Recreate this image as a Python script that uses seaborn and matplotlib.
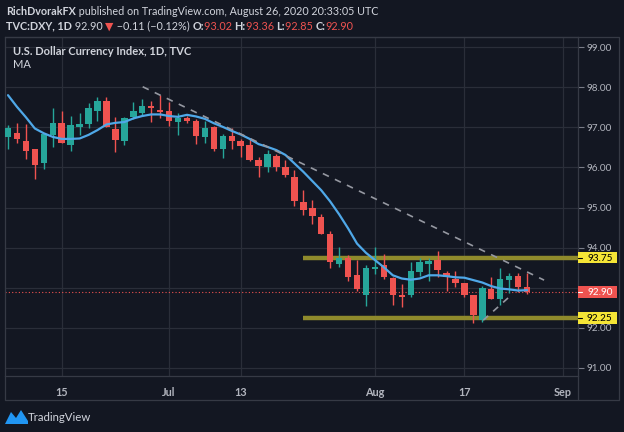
import numpy as np
import seaborn as sns
import matplotlib
matplotlib.use("Agg")
import matplotlib.pyplot as plt
import matplotlib.transforms as mtransforms
from matplotlib.patches import Rectangle, Polygon
from matplotlib.lines import Line2D

# DXY daily candles, Jun 5 -> Aug 26 2020 (trading days, index 0..58)
opens = [96.75, 96.86, 96.65, 96.45, 96.10, 96.81, 97.11, 96.56, 97.01, 97.08,
         97.41, 97.66, 96.95, 96.66, 97.25, 97.36, 97.53, 97.41, 97.40, 97.14,
         97.24, 97.16, 96.76, 97.01, 96.46, 96.78, 96.66, 96.56, 96.18, 96.00,
         96.28, 96.02, 95.75, 95.14, 94.98, 94.77, 94.35, 93.59, 93.75, 93.33,
         92.82, 93.47, 93.56, 93.25, 92.80, 92.82, 93.40, 93.59, 93.69, 93.37,
         93.23, 93.11, 92.82, 92.19, 92.96, 92.73, 93.19, 93.29, 93.02]
highs = [97.05, 97.10, 97.07, 96.47, 96.83, 97.47, 97.40, 97.28, 97.35, 97.60,
         97.75, 97.76, 97.25, 97.26, 97.62, 97.70, 97.65, 97.80, 97.64, 97.35,
         97.28, 97.20, 97.16, 97.03, 96.83, 96.97, 96.70, 96.72, 96.26, 96.43,
         96.33, 96.18, 95.93, 95.43, 95.18, 94.84, 94.42, 94.02, 93.81, 93.69,
         93.56, 94.01, 93.84, 93.27, 93.09, 93.65, 93.73, 93.75, 93.92, 93.41,
         93.42, 93.12, 92.83, 93.04, 93.26, 93.50, 93.36, 93.36, 93.36]
lows = [96.45, 96.60, 96.22, 95.71, 95.96, 96.51, 96.60, 96.41, 96.81, 96.97,
        97.16, 97.00, 96.39, 96.56, 97.20, 97.28, 97.12, 97.24, 97.04, 96.81,
        97.11, 96.58, 96.61, 96.41, 96.24, 96.45, 96.27, 96.16, 95.77, 95.89,
        95.92, 95.75, 95.03, 94.81, 94.60, 94.34, 93.48, 93.51, 93.17, 92.92,
        92.54, 93.34, 93.23, 92.57, 92.52, 92.77, 93.29, 93.17, 93.27, 92.92,
        93.02, 92.77, 92.12, 92.15, 92.72, 92.57, 92.86, 92.90, 92.85]
closes = [96.97, 96.71, 96.40, 96.06, 96.82, 97.11, 96.62, 97.05, 97.09, 97.47,
          97.66, 97.01, 96.68, 97.22, 97.40, 97.53, 97.47, 97.39, 97.16, 97.24,
          97.16, 96.78, 96.99, 96.47, 96.79, 96.66, 96.53, 96.18, 96.04, 96.33,
          96.00, 95.81, 95.17, 94.95, 94.79, 94.35, 93.65, 93.75, 93.26, 92.97,
          93.48, 93.52, 93.26, 92.82, 92.77, 93.41, 93.63, 93.66, 93.44, 93.26,
          93.11, 92.83, 92.32, 93.00, 92.73, 93.21, 93.30, 93.01, 92.90]
ma = [97.80, 97.51, 97.25, 96.97, 96.85, 96.76, 96.71, 96.71, 96.72, 96.81,
      96.93, 97.07, 97.11, 97.13, 97.22, 97.28, 97.32, 97.32, 97.28, 97.26,
      97.31, 97.27, 97.21, 97.10, 97.01, 96.91, 96.82, 96.71, 96.58, 96.51,
      96.43, 96.31, 96.10, 95.89, 95.66, 95.43, 95.15, 94.83, 94.48, 94.10,
      93.87, 93.69, 93.51, 93.31, 93.23, 93.20, 93.23, 93.31, 93.31, 93.29,
      93.26, 93.25, 93.19, 93.13, 93.04, 92.98, 92.96, 92.93, 92.94]

tick_pos = [6, 18, 26, 41, 51, 62]
tick_labels = ["15", "Jul", "13", "Aug", "17", "Sep"]
y_ticks = [91, 92, 93, 94, 95, 96, 97, 98, 99]
y_labels = ["91.00", "92.00", "", "94.00", "95.00", "96.00", "97.00", "98.00", "99.00"]  # 93.00 sits under the price box
levels = [93.75, 92.25]
level_start = 33.0
last_price = 92.90
# drawn trendlines (index, price)
res_x, res_y = [15.05, 59.9], [98.01, 93.19]
sup_x, sup_y = [53.1, 56.1], [92.19, 92.79]

BG = "#131722"
GRID = "#2a2e39"
FRAME = "#363a45"
TXT = "#d1d4dc"
TICK = "#b2b5be"
UP, DOWN = "#26a69a", "#ef5350"
MA_COL = "#4fa8e8"
LEVEL_COL = "#8f8a2c"
BOX_YEL = "#f5e536"

sns.set_theme(style="dark", rc={"axes.facecolor": BG, "figure.facecolor": BG,
                                "axes.edgecolor": FRAME, "grid.color": GRID})
plt.rcParams["font.family"] = ["Lato", "DejaVu Sans"]

W, H = 624, 432
fig = plt.figure(figsize=(W / 100, H / 100), dpi=100, facecolor=BG)
ax = fig.add_axes([5 / W, 1 - 376 / H, 573 / W, 339 / H])
ax.set_facecolor(BG)

idx = np.arange(len(closes))
o, c = np.array(opens), np.array(closes)
cols = np.where(c >= o, UP, DOWN)

# key levels and last price line (under candles)
for lv in levels:
    ax.hlines(lv, level_start, 70, color=LEVEL_COL, linewidth=3.2, zorder=1.5)
ax.axhline(last_price, color=DOWN, linewidth=0.8, linestyle=(0, (1, 2)), zorder=1.6)

ax.vlines(idx, lows, highs, colors=cols, linewidth=1.0, zorder=2)
ax.bar(idx, np.maximum(np.abs(c - o), 0.04), bottom=np.minimum(o, c), width=0.72,
       color=cols, linewidth=0, zorder=3)

sns.lineplot(x=idx, y=ma, ax=ax, color=MA_COL, linewidth=1.6, zorder=4)

ax.plot(res_x, res_y, color="#9598a1", linewidth=1.2, linestyle=(0, (4, 4)), zorder=5)
ax.plot(sup_x, sup_y, color="#9598a1", linewidth=1.2, linestyle=(0, (4, 4)), zorder=5)

ax.set_xlim(-0.335, 63.69)
ax.set_ylim(90.80, 99.25)
ax.set_xticks(tick_pos)
ax.set_xticklabels(tick_labels)
ax.set_yticks(y_ticks)
ax.set_yticklabels(y_labels)
ax.yaxis.tick_right()
ax.grid(True, color=GRID, linewidth=0.9)
ax.tick_params(axis="x", length=0, pad=8, labelsize=7.8, labelcolor=TICK)
ax.tick_params(axis="y", length=4, width=0.8, color="#787b86", pad=2,
               labelsize=7.2, labelcolor=TICK)
for lab in ax.get_xticklabels():
    lab.set_fontweight("bold")
for sp in ax.spines.values():
    sp.set_color(FRAME)
    sp.set_linewidth(0.9)

# price boxes on the right scale
bt = mtransforms.blended_transform_factory(ax.transAxes, ax.transData)
box_w = 39 / 573
for val, fc, tc in [(93.75, BOX_YEL, "black"), (92.25, BOX_YEL, "black"), (last_price, DOWN, "white")]:
    ax.add_patch(Rectangle((1.0, val - 0.145), box_w, 0.29, transform=bt, facecolor=fc,
                           edgecolor="none", clip_on=False, zorder=6))
    ax.plot([1.0, 1.0 + 4 / 573], [val, val], transform=bt, color=tc, linewidth=0.8,
            clip_on=False, zorder=7)
    ax.text(1.0 + box_w / 2 + 0.004, val - 0.02, f"{val:.2f}", transform=bt, ha="center",
            va="center", color=tc, fontsize=7.2, zorder=7, clip_on=False)

# outer frame
def fline(x0, y0, x1, y1):
    fig.add_artist(Line2D([x0 / W, x1 / W], [1 - y0 / H, 1 - y1 / H], color=FRAME, linewidth=0.9))

fline(5, 37, 619, 37)
fline(619, 37, 619, 400)
fline(5, 400, 619, 400)
fline(5, 376, 5, 400)
fline(578, 376, 578, 400)

# chart titles inside
ax.text(13 / W, 1 - 55 / H, "U.S. Dollar Currency Index, 1D, TVC", transform=fig.transFigure,
        color=TXT, fontsize=8, fontweight="bold", va="baseline")
ax.text(13 / W, 1 - 68 / H, "MA", transform=fig.transFigure, color=TXT, fontsize=8, va="baseline")

# header lines built piece by piece
renderer = fig.canvas.get_renderer()


def pieces(x, y, parts, size=7.9):
    for txt, col, wt in parts:
        t = fig.text(x / W, 1 - y / H, txt, color=col, fontsize=size, fontweight=wt, va="baseline")
        x += t.get_window_extent(renderer).width


pieces(6, 15, [("RichDvorakFX", TXT, "bold"),
               (" published on TradingView.com, August 26, 2020 20:33:05 UTC", TXT, "normal")], 7.75)
pieces(6, 29.5, [("TVC:DXY, 1D", TXT, "bold"), (" 92.90 ", TXT, "normal"),
                 ("▼", DOWN, "normal"), (" \u22120.11 (\u22120.12%) ", TXT, "normal"),
                 ("O:", TXT, "bold"), ("93.02 ", DOWN, "normal"),
                 ("H:", TXT, "bold"), ("93.36 ", DOWN, "normal"),
                 ("L:", TXT, "bold"), ("92.85 ", DOWN, "normal"),
                 ("C:", TXT, "bold"), ("92.90", DOWN, "normal")], 7.85)

# TradingView logo
logo = [(5, 424), (11, 412), (16, 418), (21, 410), (28, 421), (28, 424)]
fig.add_artist(Polygon([(px / W, 1 - py / H) for px, py in logo], closed=True,
                       facecolor="#2196f3", edgecolor="none", transform=fig.transFigure))
fig.text(28 / W, 1 - 421 / H, "TradingView", color=TXT, fontsize=8.2, va="baseline")

fig.savefig("out.png", dpi=100, facecolor=BG)
